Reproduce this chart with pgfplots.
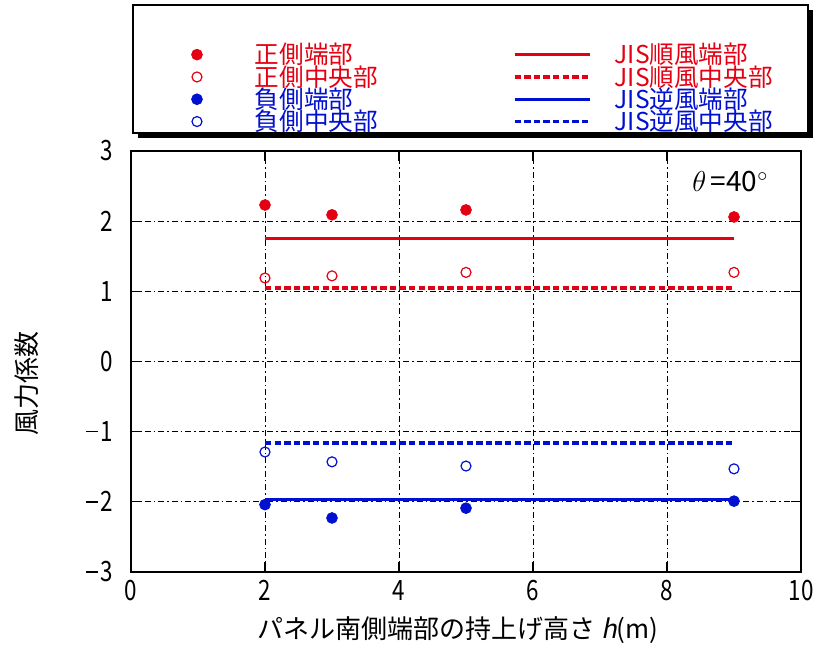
\documentclass[border=0pt]{standalone}
\usepackage{fontspec}
\setmainfont{Noto Sans CJK JP}
\newfontfamily\itfont[FakeSlant=0.2]{Noto Sans CJK JP}
\newfontfamily\tickfont[FakeStretch=0.8]{Noto Sans CJK JP}
\usepackage{pgfplots}
\pgfplotsset{compat=1.18}
\definecolor{myred}{RGB}{228,0,18}
\definecolor{myblue}{RGB}{0,16,208}
\newcommand\mn{\rule[0.33em]{0.42em}{0.065em}\hspace{0.08em}}
\newcommand\lt[3]{\makebox[#1][l]{\rule[-0.85pt]{0pt}{11.5pt}\smash{\textcolor{#2}{#3}}}}
\pgfplotsset{
  markleg/.style={legend image code/.code={\path[draw=none,fill=none] (0pt,-3pt) rectangle (37.5pt,3pt);\draw[##1] plot coordinates {(8.5pt,0pt)};}},
  lineleg/.style={legend image code/.code={\path[draw=none,fill=none] (0pt,-3pt) rectangle (50pt,3pt);\draw[##1] (0pt,0pt) -- (37.5pt,0pt);}},
}
\begin{document}
\begin{tikzpicture}[font=\fontsize{13}{15}\selectfont]
\useasboundingbox (-65.5pt,-37pt) rectangle (343.5pt,286pt);
\fill[black] (3.5pt,217pt) rectangle (341pt,281pt);
\draw[black, line width=1pt, fill=white] (1pt,219.5pt) rectangle (338.5pt,283.5pt);
\begin{axis}[
  at={(0pt,0pt)}, anchor=south west,
  scale only axis, width=335pt, height=210.5pt,
  xmin=0, xmax=10, ymin=-3, ymax=3,
  xtick={0,2,4,6,8,10}, ytick={-3,-2,-1,0,1,2,3},
  xticklabels={0,2,4,6,8,10},
  yticklabels={\mn3,\mn2,\mn1,0,1,2,3},
  tick align=inside, major tick length=5pt,
  tick style={black, line width=0.6pt},
  axis line style={line width=0.8pt},
  grid=major,
  major grid style={black, line width=0.35pt, dash pattern=on 3pt off 1.5pt on 0.8pt off 1.5pt},
  tick label style={font=\tickfont\fontsize{14}{16}\selectfont},
  yticklabel style={anchor=east, inner sep=0pt, xshift=-9pt},
  xticklabel style={anchor=north, inner sep=0pt, yshift=-4pt},
  xlabel={パネル南側端部の持上げ高さ {\itfont h}(m)},
  ylabel={風力係数},
  label style={font=\fontsize{13}{15}\selectfont},
  xlabel style={at={(axis description cs:0.488,-0.138)}, anchor=center},
  ylabel style={at={(axis description cs:-0.155,0.447)}, anchor=center},
  legend columns=2,
  legend style={at={(axis description cs:0.0731,1.2577)}, anchor=north west,
    draw=none, fill=none, inner sep=0pt, outer sep=0pt,
    row sep=-1pt, column sep=0pt, nodes={inner sep=0pt, outer sep=0pt},
    font=\fontsize{12.3}{14}\selectfont},
]
\addplot[only marks, mark=*, mark size=2.7pt, color=myred, markleg] coordinates {(2,2.23)(3,2.09)(5,2.16)(9,2.06)};
\addlegendentry{\lt{129pt}{myred}{正側端部}}
\addplot[myred, line width=1.7pt, lineleg] coordinates {(2,1.75)(9,1.75)};
\addlegendentry{\lt{100pt}{myred}{JIS順風端部}}
\addplot[only marks, mark=o, mark size=2.5pt, mark options={line width=0.6pt}, color=myred, markleg] coordinates {(2,1.19)(3,1.22)(5,1.27)(9,1.27)};
\addlegendentry{\lt{129pt}{myred}{正側中央部}}
\addplot[myred, line width=1.7pt, dash pattern=on 3.2pt off 1.6pt, lineleg] coordinates {(2,1.05)(9,1.05)};
\addlegendentry{\lt{100pt}{myred}{JIS順風中央部}}
\addplot[only marks, mark=*, mark size=2.7pt, color=myblue, markleg] coordinates {(2,-2.04)(3,-2.23)(5,-2.09)(9,-1.99)};
\addlegendentry{\lt{129pt}{myblue}{負側端部}}
\addplot[myblue, line width=1.7pt, lineleg] coordinates {(2,-1.97)(9,-1.97)};
\addlegendentry{\lt{100pt}{myblue}{JIS逆風端部}}
\addplot[only marks, mark=o, mark size=2.5pt, mark options={line width=0.6pt}, color=myblue, markleg] coordinates {(2,-1.29)(3,-1.43)(5,-1.49)(9,-1.53)};
\addlegendentry{\lt{129pt}{myblue}{負側中央部}}
\addplot[myblue, line width=1.7pt, dash pattern=on 3.2pt off 1.6pt, lineleg] coordinates {(2,-1.16)(9,-1.16)};
\addlegendentry{\lt{100pt}{myblue}{JIS逆風中央部}}
\node[anchor=east, font=\fontsize{14}{16}\selectfont] at (axis cs:9.62,2.56) {$\theta$\,=40$^{\circ}$};
\end{axis}
\end{tikzpicture}
\end{document}
